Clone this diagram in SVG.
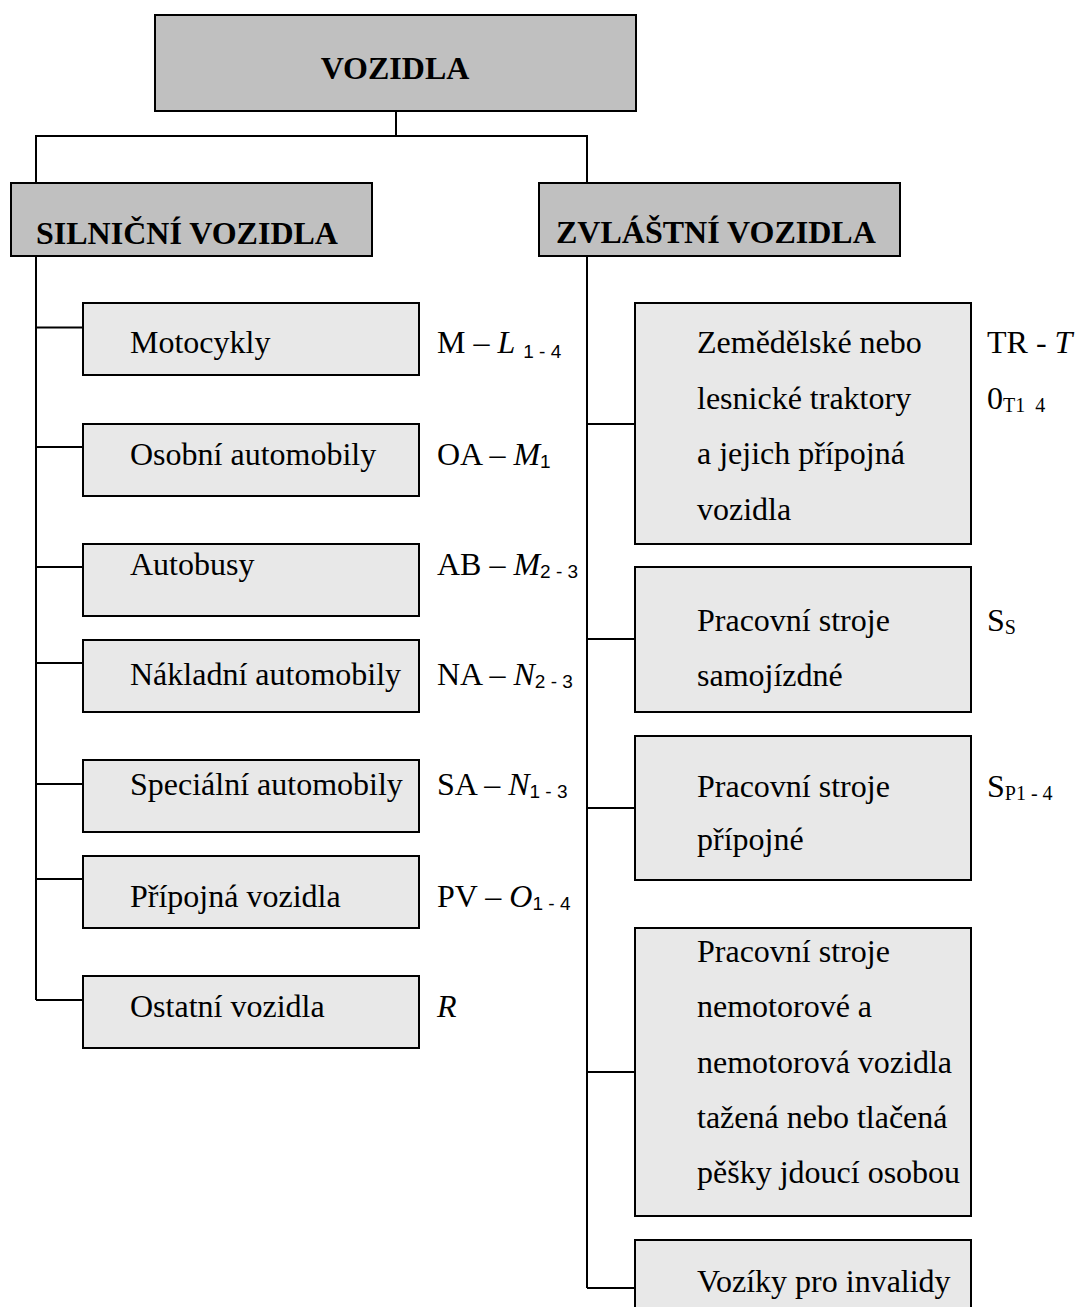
<svg xmlns="http://www.w3.org/2000/svg" width="1079" height="1307" viewBox="0 0 1079 1307">
<style>
.hdr{fill:#c0c0c0;stroke:#000;stroke-width:2}
.box{fill:#e8e8e8;stroke:#000;stroke-width:2}
.t{font-family:"Liberation Serif","Times New Roman",serif;font-size:32px;fill:#000}
.b{font-family:"Liberation Serif","Times New Roman",serif;font-size:32px;font-weight:bold;fill:#000}
.sub{font-family:"Liberation Sans",Arial,sans-serif;font-size:19px}
.subs{font-family:"Liberation Serif","Times New Roman",serif;font-size:20px}
.c{fill:none;stroke:#000;stroke-width:2}
</style>
<rect width="1079" height="1307" fill="#fff"/>
<g id="connectors">
<path class="c" d="M396,111 V136 M36,183 V136 H587 V183"/>
<path class="c" d="M36,256 V1000 M36,327.5 H83 M36,447 H83 M36,567 H83 M36,663 H83 M36,784 H83 M36,879 H83 M36,1000 H83"/>
<path class="c" d="M587,256 V1288 M587,424 H635 M587,639 H635 M587,808 H635 M587,1072 H635 M587,1288 H635"/>
</g>
<g id="vozidla"><rect class="hdr" x="155" y="15" width="481" height="96"/><text class="b" x="395" y="79" text-anchor="middle">VOZIDLA</text></g>
<g id="silnicni"><rect class="hdr" x="11" y="183" width="361" height="73"/><text class="b" x="36" y="244">SILNIČNÍ VOZIDLA</text></g>
<g id="zvlastni"><rect class="hdr" x="539" y="183" width="361" height="73"/><text class="b" x="556" y="243">ZVLÁŠTNÍ VOZIDLA</text></g>

<g id="motocykly"><rect class="box" x="83" y="303" width="336" height="72"/><text class="t" x="130" y="353">Motocykly</text><text class="t" x="437" y="353">M – <tspan font-style="italic">L</tspan> <tspan class="sub" dy="5">1 - 4</tspan></text></g>
<g id="osobni"><rect class="box" x="83" y="424" width="336" height="72"/><text class="t" x="130" y="465">Osobní automobily</text><text class="t" x="437" y="465">OA – <tspan font-style="italic">M</tspan><tspan class="sub" dy="3">1</tspan></text></g>
<g id="autobusy"><rect class="box" x="83" y="544" width="336" height="72"/><text class="t" x="130" y="575">Autobusy</text><text class="t" x="437" y="575">AB – <tspan font-style="italic">M</tspan><tspan class="sub" dy="3">2 - 3</tspan></text></g>
<g id="nakladni"><rect class="box" x="83" y="640" width="336" height="72"/><text class="t" x="130" y="685">Nákladní automobily</text><text class="t" x="437" y="685">NA – <tspan font-style="italic">N</tspan><tspan class="sub" dy="3">2 - 3</tspan></text></g>
<g id="specialni"><rect class="box" x="83" y="760" width="336" height="72"/><text class="t" x="130" y="795">Speciální automobily</text><text class="t" x="437" y="795">SA – <tspan font-style="italic">N</tspan><tspan class="sub" dy="3">1 - 3</tspan></text></g>
<g id="pripojna"><rect class="box" x="83" y="856" width="336" height="72"/><text class="t" x="130" y="907">Přípojná vozidla</text><text class="t" x="437" y="907">PV – <tspan font-style="italic">O</tspan><tspan class="sub" dy="3">1 - 4</tspan></text></g>
<g id="ostatni"><rect class="box" x="83" y="976" width="336" height="72"/><text class="t" x="130" y="1017">Ostatní vozidla</text><text class="t" x="437" y="1017" font-style="italic">R</text></g>

<g id="traktory"><rect class="box" x="635" y="303" width="336" height="241"/>
<text class="t" x="697" y="353">Zemědělské nebo</text><text class="t" x="697" y="409">lesnické traktory</text><text class="t" x="697" y="464">a jejich přípojná</text><text class="t" x="697" y="520">vozidla</text>
<text class="t" x="987" y="353">TR - <tspan font-style="italic">T</tspan></text><text class="t" x="987" y="409">0<tspan class="subs" dy="3">T1&#160;&#160;4</tspan></text></g>
<g id="samojizdne"><rect class="box" x="635" y="567" width="336" height="145"/>
<text class="t" x="697" y="631">Pracovní stroje</text><text class="t" x="697" y="686">samojízdné</text>
<text class="t" x="987" y="631">S<tspan class="subs" dy="3">S</tspan></text></g>
<g id="pripojne"><rect class="box" x="635" y="736" width="336" height="144"/>
<text class="t" x="697" y="797">Pracovní stroje</text><text class="t" x="697" y="850">přípojné</text>
<text class="t" x="987" y="797">S<tspan class="subs" dy="3">P1 - 4</tspan></text></g>
<g id="nemotorove"><rect class="box" x="635" y="928" width="336" height="288"/>
<text class="t" x="697" y="962">Pracovní stroje</text><text class="t" x="697" y="1017">nemotorové a</text><text class="t" x="697" y="1073">nemotorová vozidla</text><text class="t" x="697" y="1128">tažená nebo tlačená</text><text class="t" x="697" y="1183">pěšky jdoucí osobou</text></g>
<g id="voziky"><rect class="box" x="635" y="1240" width="336" height="90"/><text class="t" x="697" y="1292">Vozíky pro invalidy</text></g>
</svg>
